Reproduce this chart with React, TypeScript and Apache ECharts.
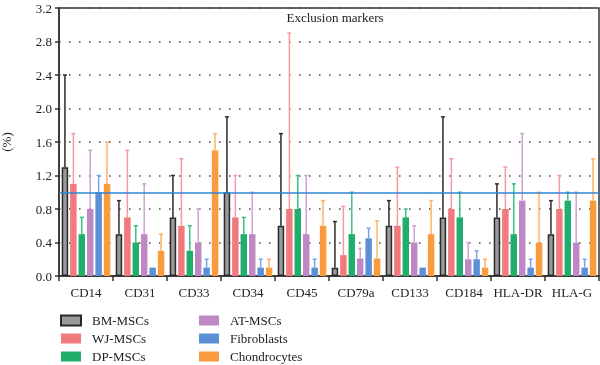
import React, { useEffect, useRef } from "react";
import * as echarts from "echarts";

const categories = ["CD14", "CD31", "CD33", "CD34", "CD45", "CD79a", "CD133", "CD184", "HLA-DR", "HLA-G"];
const groupNames = ["BM-MSCs", "WJ-MSCs", "DP-MSCs", "AT-MSCs", "Fibroblasts", "Chondrocytes"];

const bmMean = [1.3, 0.5, 0.7, 1.0, 0.6, 0.1, 0.6, 0.7, 0.7, 0.5];
const bmUpper = [2.4, 0.9, 1.2, 1.9, 1.7, 0.65, 0.9, 1.9, 1.1, 0.9];
const wjMean = [1.1, 0.7, 0.6, 0.7, 0.8, 0.25, 0.6, 0.8, 0.8, 0.8];
const wjUpper = [1.7, 1.5, 1.4, 1.2, 2.9, 0.83, 1.3, 1.4, 1.3, 1.2];
const dpMean = [0.5, 0.4, 0.3, 0.5, 0.8, 0.5, 0.7, 0.7, 0.5, 0.9];
const dpUpper = [0.7, 0.6, 0.6, 0.7, 1.2, 1.0, 0.8, 1.0, 1.1, 1.0];
const atMean = [0.8, 0.5, 0.4, 0.5, 0.5, 0.21, 0.4, 0.2, 0.9, 0.4];
const atUpper = [1.5, 1.1, 0.8, 1.0, 1.2, 0.33, 0.6, 0.4, 1.7, 1.0];
const fibMean = [1.0, 0.1, 0.1, 0.1, 0.1, 0.45, 0.1, 0.2, 0.1, 0.1];
const fibUpper = [1.2, 0.1, 0.2, 0.2, 0.2, 0.57, 0.1, 0.3, 0.2, 0.2];
const choMean = [1.1, 0.3, 1.5, 0.1, 0.6, 0.21, 0.5, 0.1, 0.4, 0.9];
const choUpper = [1.6, 0.5, 1.7, 0.2, 0.9, 0.66, 0.9, 0.2, 1.0, 1.4];

const yTicks = [0, 0.4, 0.8, 1.2, 1.6, 2.0, 2.4, 2.8, 3.2];
const thresholdValue = 1.0;

const means = [bmMean, wjMean, dpMean, atMean, fibMean, choMean];
const uppers = [bmUpper, wjUpper, dpUpper, atUpper, fibUpper, choUpper];
const barColors = ["#9a9a9a", "#f07a7e", "#1fae6c", "#bd88c3", "#5b8fd6", "#f89c3e"];
const errColors = ["#2a2a2a", "#f59aa0", "#3cc08a", "#cfa3d4", "#78a6e4", "#fbb466"];

const FONT = "Liberation Serif";
const CAT_GAP = 0.1;
const BAR_GAP = 0.3;

export default function App() {
  const ref = useRef<HTMLDivElement>(null);
  useEffect(() => {
    if (!ref.current) return;
    const chart = echarts.init(ref.current, undefined, { renderer: "svg" });
    const n = groupNames.length;

    const barSeries = groupNames.map((name, g) => ({
      name,
      type: "bar",
      data: means[g],
      barGap: `${BAR_GAP * 100}%`,
      barCategoryGap: `${CAT_GAP * 100}%`,
      itemStyle: g === 0
        ? { color: barColors[g], borderColor: "#2a2a2a", borderWidth: 1.5 }
        : { color: barColors[g] },
      z: 2,
      ...(g === 0
        ? {
            markLine: {
              silent: true,
              symbol: ["none", "none"],
              label: { show: false },
              lineStyle: { color: "#2f86d2", width: 1.5, type: "solid" },
              data: [{ yAxis: thresholdValue }],
            },
          }
        : {}),
    }));

    const errSeries = groupNames.map((name, g) => ({
      name: name + " error",
      type: "custom",
      z: 3,
      encode: { x: 0, y: [1, 2] },
      data: categories.map((_, i) => [i, means[g][i], uppers[g][i]]),
      renderItem: (params: any, api: any) => {
        const m = api.value(1);
        const u = api.value(2);
        if (u <= m) return null;
        const band = api.size([1, 0])[0];
        const bw = (band * (1 - CAT_GAP)) / (n + (n - 1) * BAR_GAP);
        const pitch = bw * (1 + BAR_GAP);
        const idx = api.value(0);
        const cx = api.coord([idx, 0])[0] + (g - (n - 1) / 2) * pitch;
        const yTop = api.coord([idx, u])[1];
        const yBot = api.coord([idx, m])[1];
        const style = { stroke: errColors[g], lineWidth: 1.5 };
        return {
          type: "group",
          children: [
            { type: "line", shape: { x1: cx, y1: yBot, x2: cx, y2: yTop }, style },
            { type: "line", shape: { x1: cx - 2, y1: yTop, x2: cx + 2, y2: yTop }, style },
          ],
        };
      },
    }));

    const legendCommon = {
      orient: "vertical",
      icon: "rect",
      itemWidth: 20,
      itemHeight: 10,
      itemGap: 5,
      height: 70,
      padding: 0,
      textStyle: { fontFamily: FONT, fontSize: 13, color: "#222", padding: [0, 0, 0, 6] },
      selectedMode: false,
    };

    chart.setOption({
      animation: false,
      textStyle: { fontFamily: FONT },
      title: {
        text: "Exclusion markers",
        left: 330,
        top: 6,
        textAlign: "center",
        textStyle: { fontFamily: FONT, fontSize: 13, fontWeight: "normal", color: "#222" },
      },
      legend: [
        { ...legendCommon, left: 60, top: 314, data: groupNames.slice(0, 3) },
        { ...legendCommon, left: 199, top: 314, data: groupNames.slice(3) },
      ],
      grid: {
        left: 59,
        right: 1,
        top: 8,
        bottom: 89,
        show: true,
        borderColor: "#333",
        borderWidth: 1.5,
        outerBoundsMode: "none",
        containLabel: false,
      },
      xAxis: {
        type: "category",
        data: categories,
        axisLine: { lineStyle: { color: "#333", width: 1.5 } },
        axisTick: { show: true, length: 5, lineStyle: { color: "#333", width: 1.5 } },
        axisLabel: { fontFamily: FONT, fontSize: 13, color: "#222", margin: 10, interval: 0 },
      },
      yAxis: {
        type: "value",
        min: yTicks[0],
        max: yTicks[yTicks.length - 1],
        interval: 0.4,
        name: "(%)",
        nameLocation: "middle",
        nameGap: 46,
        nameRotate: 90,
        nameTextStyle: { fontFamily: FONT, fontSize: 13, color: "#222" },
        axisLine: { show: true, lineStyle: { color: "#333", width: 1.5 } },
        axisTick: { show: true, length: 4, lineStyle: { color: "#333", width: 1.5 } },
        axisLabel: {
          fontFamily: FONT,
          fontSize: 13,
          color: "#222",
          margin: 7,
          formatter: (v: number) => v.toFixed(1),
        },
        splitLine: { show: true, lineStyle: { color: "#444", width: 1.5, type: [1.5, 8.5] } },
      },
      series: [...barSeries, ...errSeries],
    });
    return () => chart.dispose();
  }, []);
  return <div ref={ref} style={{ position: "fixed", left: 0, top: 0, width: 600, height: 365 }} />;
}
